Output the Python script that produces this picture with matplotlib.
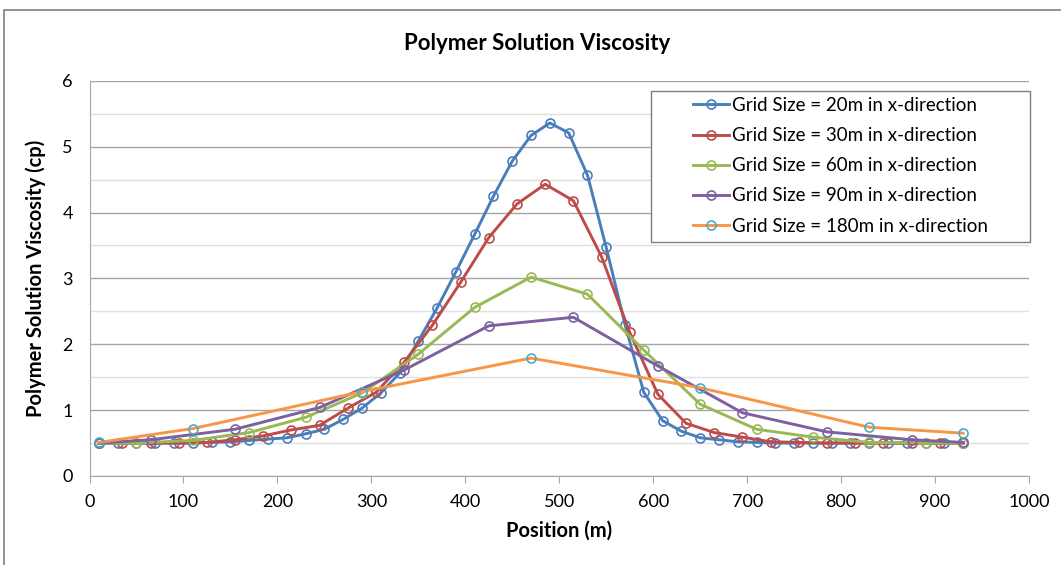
import matplotlib
matplotlib.use("Agg")
import matplotlib.pyplot as plt
from matplotlib.patches import Rectangle

plt.rcParams['font.family'] = ['Lato', 'DejaVu Sans']

title = "Polymer Solution Viscosity"
xlabel = "Position (m)"
ylabel = "Polymer Solution Viscosity (cp)"

x20 = [10, 30, 50, 70, 90, 110, 130, 150, 170, 190, 210, 230, 250, 270, 290, 310, 330,
       350, 370, 390, 410, 430, 450, 470, 490, 510, 530, 550, 570, 590, 610, 630, 650,
       670, 690, 710, 730, 750, 770, 790, 810, 830, 850, 870, 890, 910, 930]
y20 = [0.50, 0.50, 0.50, 0.50, 0.50, 0.50, 0.51, 0.52, 0.54, 0.56, 0.58, 0.64, 0.71, 0.86, 1.03, 1.26, 1.56,
       2.05, 2.55, 3.10, 3.67, 4.25, 4.78, 5.17, 5.36, 5.21, 4.57, 3.47, 2.30, 1.27, 0.84, 0.68, 0.58,
       0.55, 0.52, 0.51, 0.50, 0.50, 0.50, 0.50, 0.50, 0.50, 0.50, 0.50, 0.50, 0.50, 0.50]

x30 = [10, 35, 65, 95, 125, 155, 185, 215, 245, 275, 305, 335, 365, 395, 425, 455, 485,
       515, 545, 575, 605, 635, 665, 695, 725, 755, 785, 815, 845, 875, 905, 930]
y30 = [0.50, 0.50, 0.50, 0.50, 0.51, 0.55, 0.61, 0.70, 0.77, 1.03, 1.27, 1.73, 2.29, 2.94, 3.62, 4.13, 4.43,
       4.18, 3.33, 2.18, 1.24, 0.80, 0.66, 0.59, 0.52, 0.51, 0.50, 0.50, 0.50, 0.50, 0.50, 0.50]

x60 = [10, 50, 110, 170, 230, 290, 350, 410, 470, 530, 590, 650, 710, 770, 830, 890, 930]
y60 = [0.50, 0.50, 0.54, 0.66, 0.89, 1.26, 1.85, 2.56, 3.02, 2.76, 1.91, 1.09, 0.71, 0.59, 0.51, 0.50, 0.50]

x90 = [10, 65, 155, 245, 335, 425, 515, 605, 695, 785, 875, 930]
y90 = [0.50, 0.55, 0.71, 1.04, 1.61, 2.28, 2.41, 1.67, 0.96, 0.67, 0.55, 0.51]

x180 = [10, 110, 290, 470, 650, 830, 930]
y180 = [0.51, 0.72, 1.28, 1.79, 1.34, 0.74, 0.65]

labels = ["Grid Size = 20m in x-direction", "Grid Size = 30m in x-direction",
          "Grid Size = 60m in x-direction", "Grid Size = 90m in x-direction",
          "Grid Size = 180m in x-direction"]
line_colors = ["#4A7EBB", "#BE4B48", "#98B954", "#7D60A0", "#F79646"]
marker_colors = ["#4A7EBB", "#BE4B48", "#98B954", "#7D60A0", "#4BACC6"]

xticks = [0, 100, 200, 300, 400, 500, 600, 700, 800, 900, 1000]
yticks = [0, 1, 2, 3, 4, 5, 6]

W, H = 1061, 565
fig = plt.figure(figsize=(W / 100, H / 100), dpi=100)
L, R, T, B = 89.5, 1029, 80.8, 476
ax = fig.add_axes([L / W, 1 - B / H, (R - L) / W, (B - T) / H])

series = [(x20, y20), (x30, y30), (x60, y60), (x90, y90), (x180, y180)]
for (xs, ys), lab, lc, mc in zip(series, labels, line_colors, marker_colors):
    ax.plot(xs, ys, color=lc, lw=2.1, marker='o', ms=6.5, mfc='none', mec=mc, mew=1.2,
            label=lab, zorder=3)

ax.set_xlim(0, 1000)
ax.set_ylim(0, 6)
ax.set_xticks(xticks)
ax.set_yticks(yticks)
ax.set_yticks([0.5, 1.5, 2.5, 3.5, 4.5, 5.5], minor=True)
ax.grid(True, which='major', axis='y', color='#A6A6A6', lw=1.0, zorder=0)
ax.grid(True, which='minor', axis='y', color='#E0E0E0', lw=1.0, zorder=0)
ax.tick_params(axis='y', which='both', length=0, labelsize=13, pad=12)
ax.tick_params(axis='x', which='major', length=5, color='#A6A6A6', direction='out',
               labelsize=13, pad=8)
for s in ['top', 'right']:
    ax.spines[s].set_visible(False)
ax.spines['left'].set_color('#A6A6A6')
ax.spines['bottom'].set_color('#A6A6A6')

ax.set_xlabel(xlabel, fontsize=14.5, fontweight='bold', labelpad=8)
ax.set_ylabel(ylabel, fontsize=14.5, fontweight='bold', labelpad=12)
fig.text(537 / W, 1 - 43 / H, title, ha='center', va='center', fontsize=16, fontweight='bold')

def ax_x(px):
    return (px - L) / (R - L)

def ax_y(py):
    return (B - py) / (B - T)

leg = ax.legend(loc='upper left', bbox_to_anchor=(ax_x(693), ax_y(97)),
                fontsize=13.5, frameon=False, borderpad=0, borderaxespad=0,
                handlelength=1.9, handletextpad=0.2, labelspacing=0.70)
ax.add_patch(Rectangle((ax_x(651), ax_y(242)), ax_x(1030) - ax_x(651), ax_y(91) - ax_y(242),
                       transform=ax.transAxes, fill=True, facecolor='white',
                       edgecolor='#7F7F7F', lw=1.0, zorder=4, clip_on=False))
leg.set_zorder(5)

fig.patches.append(Rectangle((4 / W, -0.01), 1.2, 1 - 10 / H + 0.01, transform=fig.transFigure,
                             fill=False, edgecolor='#7F7F7F', lw=1.2))

fig.savefig("out.png", dpi=100)
